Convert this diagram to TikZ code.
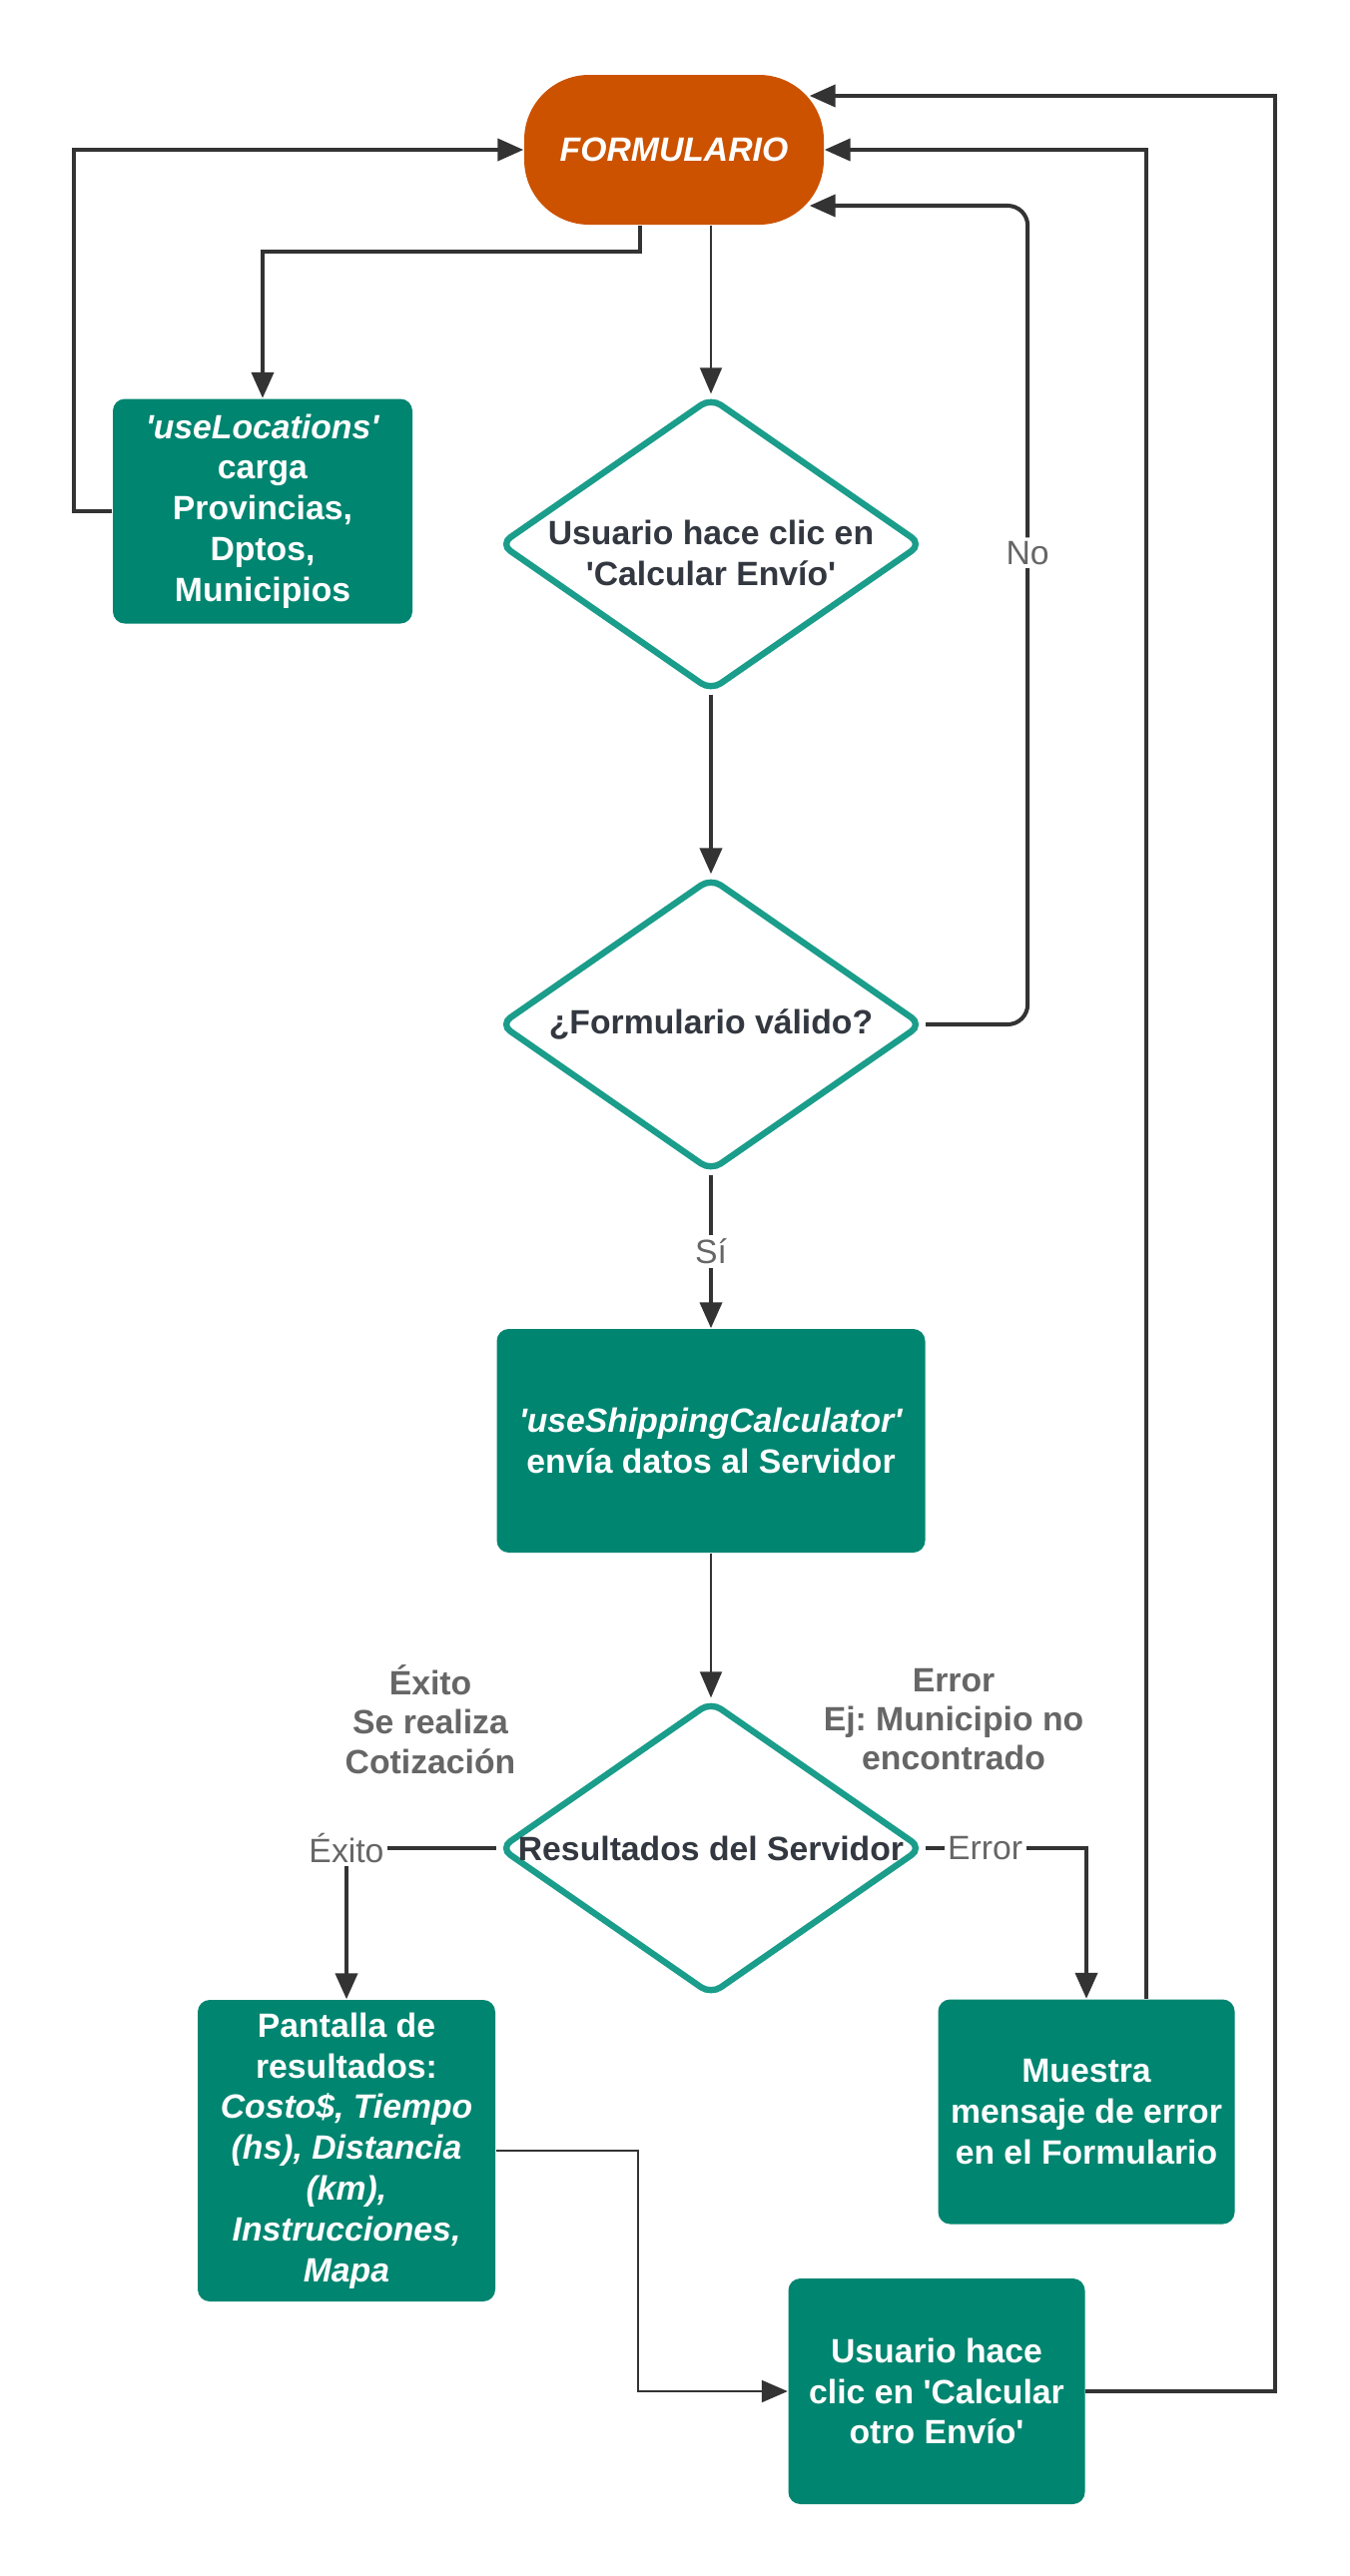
\documentclass[tikz,border=0pt]{standalone}
\usepackage{fontspec}
\setmainfont{Liberation Sans}
\usepackage{xcolor}
\usetikzlibrary{arrows.meta,shapes.geometric,positioning}

\definecolor{formorange}{RGB}{204,82,0}
\definecolor{boxteal}{RGB}{0,133,112}
\definecolor{diateal}{RGB}{26,157,138}
\definecolor{linegray}{RGB}{51,51,51}
\definecolor{labelgray}{RGB}{102,102,102}
\definecolor{darktext}{RGB}{51,56,64}
\newcommand{\q}{\textquotesingle}
\frenchspacing

\begin{document}
\begin{tikzpicture}[>={Triangle[length=0.26cm,width=0.22cm]},
  font=\fontsize{9.6}{11.6}\selectfont]
  \tikzstyle{process}=[rectangle, rounded corners=0.12cm, fill=boxteal, text=white,
    font=\fontsize{9.6}{11.6}\selectfont\bfseries, align=center, inner sep=0pt]
  \tikzstyle{decision}=[diamond, draw=diateal, line width=1.8pt, fill=white,
    rounded corners=0.12cm, minimum width=4.24cm, minimum height=2.95cm, inner sep=0pt]
  \tikzstyle{dtext}=[text=darktext, font=\fontsize{9.6}{11.6}\selectfont\bfseries, align=center]
  \tikzstyle{flow}=[->, draw=linegray, line width=1.15pt]
  \tikzstyle{thin flow}=[->, draw=linegray, line width=0.45pt]
  \tikzstyle{elabel}=[fill=white, text=labelgray, inner sep=1pt]
  \tikzstyle{note}=[text=labelgray, font=\fontsize{9.6}{11.2}\selectfont\bfseries, align=center]

  \useasboundingbox (0,0) rectangle (13.52,-25.80);

  \node[rectangle, rounded corners=0.65cm, fill=formorange, text=white,
    minimum width=3.0cm, minimum height=1.5cm,
    font=\fontsize{9.6}{11.6}\selectfont\bfseries\itshape] (form) at (6.75,-1.50) {FORMULARIO};
  \node[process, minimum width=3.0cm, minimum height=2.25cm] (loc) at (2.63,-5.12)
    {\textit{\q useLocations\q}\\carga\\Provincias,\\Dptos,\\Municipios};
  \node[decision, label={[dtext,yshift=-0.09cm]center:Usuario hace clic en\\\q Calcular Envío\q}]
    (clic) at (7.12,-5.45) {};
  \node[decision, label={[dtext]center:¿Formulario válido?}]
    (valid) [below of=clic, node distance=4.81cm] {};
  \node[process, minimum width=4.29cm, minimum height=2.24cm] (calc)
    [below of=valid, node distance=4.17cm]
    {\textit{\q useShippingCalculator\q}\\envía datos al Servidor};
  \node[decision, label={[dtext]center:Resultados del Servidor}]
    (server) [below of=calc, node distance=4.08cm] {};
  \node[process, minimum width=2.98cm, minimum height=3.02cm] (res) at (3.47,-21.54)
    {Pantalla de\\resultados:\\\textit{Costo\$, Tiempo}\\\textit{(hs), Distancia}\\\textit{(km),}\\\textit{Instrucciones,}\\\textit{Mapa}};
  \node[process, minimum width=2.97cm, minimum height=2.25cm] (err) at (10.88,-21.15)
    {Muestra\\mensaje de error\\en el Formulario};
  \node[process, minimum width=2.97cm, minimum height=2.26cm] (otro) at (9.38,-23.95)
    {Usuario hace\\clic en \q Calcular\\otro Envío\q};

  \node[note] (ok note) at (4.31,-17.22) {Éxito\\Se realiza\\Cotización};
  \node[note] (err note) at (9.55,-17.22) {Error\\Ej: Municipio no\\encontrado};

  % connectors
  \draw[flow] ([xshift=-0.34cm]form.south) -- ++(0,-0.26) -| (loc.north);
  \draw[flow] (loc.west) -- ++(-0.38,0) |- (form.west);
  \draw[thin flow] (clic.north |- form.south) -- (clic.north);
  \draw[flow] (clic.south) -- (valid.north);
  \draw[flow, rounded corners=0.2cm] (valid.east) -- ++(1.02,0)
    |- node[elabel, pos=0.288] {No} ([xshift=-0.15cm,yshift=-0.56cm]form.east);
  \draw[flow] (valid.south) -- node[elabel] {Sí} (calc.north);
  \draw[thin flow] (calc.south) -- (server.north);
  \draw[flow] (server.west) -- (res.north |- server.west) node[elabel] {Éxito} -- (res.north);
  \draw[flow] (server.east) -- node[elabel, pos=0.37] {Error} (err.north |- server.east) -- (err.north);
  \draw[flow] ([xshift=0.60cm]err.north) |- (form.east);
  \draw[->, draw=linegray, line width=0.6pt] (res.east) -- ++(1.42,0) |- (otro.west);
  \draw[flow] (otro.east) -- ++(1.90,0) |- ([xshift=-0.15cm,yshift=0.54cm]form.east);
\end{tikzpicture}
\end{document}
